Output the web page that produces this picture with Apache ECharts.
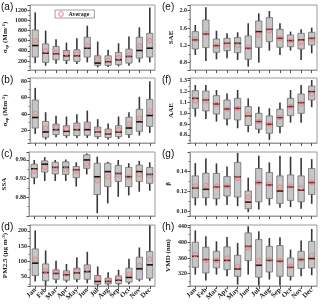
<!DOCTYPE html>
<html><head><meta charset="utf-8">
<script src="https://cdn.jsdelivr.net/npm/echarts@6/dist/echarts.min.js"></script>
<style>html,body{margin:0;padding:0;background:#fff}#c{width:320px;height:304px}</style>
</head><body><div id="c"></div>
<script>
const months = ['Jan','Feb','Mar','Apr','May','Jun','Jul','Aug','Sep','Oct','Nov','Dec'];

// [min, q1, median, q3, max]
const sspBox = [[161,278,505,810,1154],[109,174,356,537,797],[148,226,343,486,628],[142,213,304,408,563],[142,194,304,421,648],[174,278,453,667,894],[77,116,161,304,583],[83,116,187,304,421],[96,129,226,369,550],[109,161,291,434,680],[174,258,408,667,862],[174,278,453,745,1251]];
const sspMean = [602,401,369,349,336,499,239,213,271,323,499,602];
const sapBox = [[16,23.2,36,57.2,72],[9.2,12,18.4,31.2,42.4],[12,15.2,21.2,28,38],[11.2,14,19.2,26,37.2],[11.2,14,21.2,29.2,40],[11.2,14.4,21.2,30.4,44.4],[10,12.8,18.4,24.4,34],[9.2,11.6,16,22,28.8],[10,12.8,18.4,26,37.2],[11.2,15.2,23.2,36.4,42.4],[14,19.2,30.8,46,61.2],[17.2,25.2,38.4,58,80]];
const sapMean = [41.2,23.2,24,22.4,24,25.2,20.4,18.4,21.2,28,35.2,44];
const ssaBox = [[0.908,0.922,0.941,0.951,0.960],[0.915,0.934,0.951,0.958,0.966],[0.915,0.930,0.944,0.955,0.960],[0.915,0.929,0.944,0.956,0.961],[0.903,0.922,0.939,0.946,0.955],[0.929,0.942,0.960,0.971,0.974],[0.846,0.886,0.924,0.953,0.967],[0.867,0.903,0.935,0.953,0.956],[0.881,0.914,0.931,0.948,0.960],[0.884,0.903,0.924,0.944,0.953],[0.892,0.914,0.935,0.949,0.958],[0.894,0.910,0.929,0.944,0.955]];
const ssaMean = [0.936,0.944,0.941,0.940,0.936,0.951,0.915,0.924,0.928,0.924,0.929,0.926];
const pmBox = [[35,54,94.6,141,201],[20.6,37,64,92,136],[29,42,61,73,102],[31.5,39,56.5,69.6,92],[32.6,42,63,78,114],[29,42,67,89,131.5],[20.6,26,35,54.3,83.7],[21.7,27,35,45.6,65],[21.7,28,39,53,72.8],[26,32.6,48,78,108.7],[35,42,76,114,145.7],[37,45.6,89,132.6,218]];
const pmMean = [107.6,70.6,64,58.7,68.5,75,44.6,39,45.6,58.7,87,107.6];
const saeBox = [[0.977,1.115,1.323,1.515,1.669],[0.838,1.146,1.461,1.784,2.077],[0.877,1.038,1.192,1.346,1.538],[0.900,1.077,1.246,1.361,1.477],[0.862,1.031,1.246,1.377,1.500],[0.708,0.877,1.131,1.415,1.708],[0.800,1.154,1.515,1.761,1.938],[1.077,1.285,1.569,1.838,1.992],[0.977,1.154,1.361,1.569,1.708],[1.077,1.169,1.308,1.438,1.515],[0.862,1.115,1.323,1.477,1.569],[1.015,1.208,1.361,1.500,1.608]];
const saeMean = [1.338,1.477,1.185,1.208,1.192,1.154,1.438,1.538,1.361,1.300,1.269,1.338];
const aaeBox = [[0.969,1.045,1.137,1.208,1.260],[0.947,1.021,1.122,1.205,1.260],[0.923,0.993,1.085,1.162,1.214],[0.886,0.947,1.039,1.122,1.183],[0.861,0.938,1.045,1.137,1.214],[0.825,0.886,0.975,1.061,1.137],[0.815,0.852,0.923,0.999,1.061],[0.754,0.815,0.898,0.975,1.045],[0.815,0.877,0.959,1.036,1.100],[0.913,0.978,1.061,1.137,1.214],[0.913,0.999,1.097,1.177,1.260],[1.055,1.122,1.199,1.251,1.306]];
const aaeMean = [1.116,1.113,1.082,1.039,1.045,0.990,0.923,0.898,0.959,1.061,1.085,1.177];
const betaBox = [[0.1056,0.1133,0.1230,0.1351,0.1479],[0.1056,0.1133,0.1217,0.1378,0.1526],[0.1056,0.1123,0.1240,0.1375,0.1476],[0.1059,0.1150,0.1247,0.1344,0.1445],[0.1049,0.1140,0.1341,0.1486,0.1580],[0.0988,0.1022,0.1089,0.1200,0.1334],[0.1015,0.1092,0.1284,0.1425,0.1553],[0.1056,0.1126,0.1260,0.1385,0.1486],[0.1032,0.1076,0.1200,0.1351,0.1553],[0.1039,0.1106,0.1240,0.1361,0.1543],[0.1022,0.1092,0.1210,0.1351,0.1530],[0.1072,0.1166,0.1284,0.1425,0.1519]];
const betaMean = [0.1250,0.1257,0.1250,0.1250,0.1328,0.1140,0.1284,0.1267,0.1240,0.1250,0.1234,0.1284];
const vmdBox = [[317.4,336,364.6,400.6,431],[302,321.7,356,387.7,416],[317.4,334.6,354,377.4,403],[313,330,354,388.6,414],[291.7,313,332,367,399],[317.4,353.4,390,424.6,441.7],[289,310.6,341.4,407.4,428.8],[304.6,324,354,390,411.7],[289,313,351.7,392,413.4],[302,313,336,360,381.7],[313,333,356,377.4,405],[315.7,334.6,358.6,403,434.8]];
const vmdMean = [369,353.4,354,360,339,386,353.4,356,353.4,339,356,367];

// tick labels per panel
const sspTicks = [200,400,600,800,1000,1200];
const sapTicks = [20,40,60,80];
const ssaTicks = [0.88,0.92,0.96];
const pmTicks = [50,100,150,200];
const saeTicks = [0.8,1.2,1.6,2.0];
const aaeTicks = [0.8,0.9,1.0,1.1,1.2,1.3];
const betaTicks = [0.10,0.12,0.14];
const vmdTicks = [320,360,400,440];

const serif = '"Liberation Serif","DejaVu Serif",serif';
const sans = '"Liberation Sans",Arial,sans-serif';

const panels = [
 {box:sspBox, mean:sspMean, ticks:sspTicks, dec:0, min:25, max:1300, step:200, col:0, row:0, letter:'(a)', name:'σ{sub|sp} (Mm{sup|-1})', gap:21},
 {box:sapBox, mean:sapMean, ticks:sapTicks, dec:0, min:5, max:84, step:20, col:0, row:1, letter:'(b)', name:'σ{sub|ap} (Mm{sup|-1})', gap:21},
 {box:ssaBox, mean:ssaMean, ticks:ssaTicks, dec:2, min:0.84, max:0.977, step:0.04, col:0, row:2, letter:'(c)', name:'SSA', gap:21},
 {box:pmBox, mean:pmMean, ticks:pmTicks, dec:0, min:20, max:219, step:50, col:0, row:3, letter:'(d)', name:'PM2.5 (μg m{sup|-3})', gap:21},
 {box:saeBox, mean:saeMean, ticks:saeTicks, dec:1, min:0.63, max:2.13, step:0.4, col:1, row:0, letter:'(e)', name:'SAE', gap:15},
 {box:aaeBox, mean:aaeMean, ticks:aaeTicks, dec:1, min:0.725, max:1.325, step:0.1, col:1, row:1, letter:'(f)', name:'AAE', gap:15},
 {box:betaBox, mean:betaMean, ticks:betaTicks, dec:2, min:0.095, max:0.159, step:0.02, col:1, row:2, letter:'(g)', name:'β', gap:18},
 {box:vmdBox, mean:vmdMean, ticks:vmdTicks, dec:0, min:288, max:445, step:40, col:1, row:3, letter:'(h)', name:'VMD (nm)', gap:18}
];

const colLeft = [29, 190], colWidth = [126, 127];
const rowTop = [5, 78, 152, 225], rowH = [65, 65, 64, 61];

const grid = [], xAxis = [], yAxis = [], series = [], title = [];
panels.forEach((p, i) => {
  grid.push({left: colLeft[p.col], top: rowTop[p.row], width: colWidth[p.col], height: rowH[p.row],
    show: true, borderColor: '#9a9a9a', borderWidth: 1, backgroundColor: 'transparent'});
  xAxis.push({type: 'category', gridIndex: i, data: months, boundaryGap: true,
    axisLine: {show: true, lineStyle: {color: '#9a9a9a'}},
    axisTick: {show: true, alignWithLabel: true, interval: 0, length: 3, inside: false, lineStyle: {color: '#555'}},
    axisLabel: {show: p.row === 3, interval: 0, rotate: 45, fontSize: 7, fontFamily: serif, color: '#222', margin: 3, fontWeight: 'bold'},
    splitLine: {show: false}});
  yAxis.push({type: 'value', gridIndex: i, min: p.min, max: p.max, minInterval: p.step, maxInterval: p.step, splitNumber: 5,
    axisLine: {show: true, lineStyle: {color: '#9a9a9a'}},
    axisTick: {show: true, length: 2.5, lineStyle: {color: '#555'}},
    minorTick: {show: true, splitNumber: 2, length: 1.5, lineStyle: {color: '#777'}},
    splitLine: {show: false},
    axisLabel: {fontSize: 6, fontFamily: serif, color: '#222', margin: 3, fontWeight: 'bold',
      showMinLabel: true, showMaxLabel: true,
      formatter: v => p.ticks.some(t => Math.abs(t - v) < p.step * 0.01) ? v.toFixed(p.dec) : ''},
    name: p.name, nameLocation: 'middle', nameGap: p.gap, nameRotate: 90,
    nameTextStyle: {fontSize: 7, fontFamily: serif, color: '#222', fontWeight: 'bold',
      rich: {sub: {fontSize: 5, fontFamily: serif, verticalAlign: 'bottom', padding: [3,0,0,0], fontWeight: 'bold'},
             sup: {fontSize: 5, fontFamily: serif, verticalAlign: 'top', padding: [0,0,3,0], fontWeight: 'bold'}}}
  });
  title.push({text: p.letter, left: colLeft[p.col] - 28, top: rowTop[p.row] - 3,
    textStyle: {fontSize: 10, fontFamily: sans, fontWeight: 'normal', color: '#111'}, padding: 0});
  series.push({type: 'custom', xAxisIndex: i, yAxisIndex: i, clip: false,
    data: p.box.map((b, k) => [k, b[0], b[1], b[2], b[3], b[4]]),
    encode: {x: 0, y: [1, 2, 3, 4, 5]},
    renderItem: (params, api) => {
      const k = api.value(0);
      const pMin = api.coord([k, api.value(1)]);
      const pQ1 = api.coord([k, api.value(2)]);
      const pMed = api.coord([k, api.value(3)]);
      const pQ3 = api.coord([k, api.value(4)]);
      const pMax = api.coord([k, api.value(5)]);
      const bw = api.size([1, 0])[0] * 0.6;
      const x = pMed[0];
      return {type: 'group', children: [
        {type: 'line', shape: {x1: x, y1: pMin[1], x2: x, y2: pMax[1]}, style: {stroke: '#383838', lineWidth: 1.6}},
        {type: 'rect', shape: {x: x - bw / 2, y: pQ3[1], width: bw, height: pQ1[1] - pQ3[1]}, style: {fill: '#c6c6c6', stroke: '#6e6e6e', lineWidth: 0.8}},
        {type: 'line', shape: {x1: x - bw / 2, y1: pMed[1], x2: x + bw / 2, y2: pMed[1]}, style: {stroke: p.col === 0 ? '#111' : '#4a1010', lineWidth: 1.6}}
      ]};
    }, z: 2});
  series.push({type: 'scatter', name: 'Average', xAxisIndex: i, yAxisIndex: i,
    data: p.mean.map((m, k) => [k, m]), symbol: 'circle', symbolSize: 4.5,
    itemStyle: {color: 'rgba(240,150,150,0.25)', borderColor: '#ee7d84', borderWidth: 1}, z: 5});
});

const chart = echarts.init(document.getElementById('c'), null, {renderer: 'canvas'});
chart.setOption({
  animation: false,
  title: title,
  legend: {data: [{name: 'Average', itemStyle: {color: 'rgba(240,150,150,0.25)', borderColor: '#ee7d84', borderWidth: 1}}],
    left: 55, top: 10, itemWidth: 5, itemHeight: 5, itemGap: 2,
    padding: [1, 5, 1, 3], borderColor: '#888', borderWidth: 0.8,
    textStyle: {fontSize: 6, fontFamily: serif, color: '#222', fontWeight: 'bold'}},
  grid: grid, xAxis: xAxis, yAxis: yAxis, series: series
});
</script></body></html>
